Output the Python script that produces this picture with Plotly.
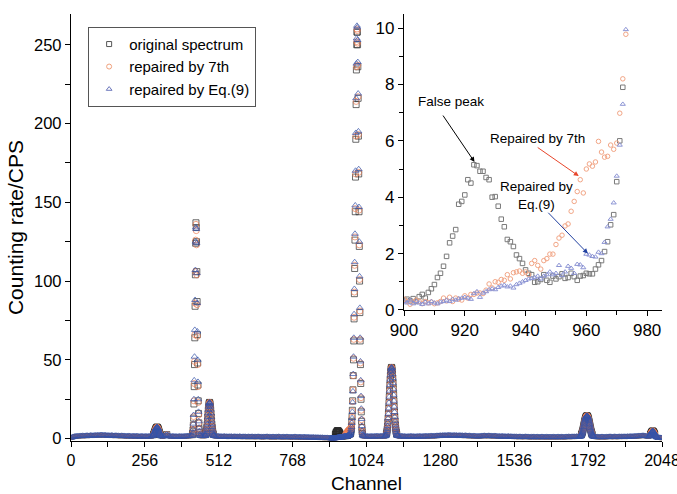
import plotly.graph_objects as go

# ---------------- data ----------------
# continuum, sampled every 4 channels (0..2048); None = channel range given in detail below
baseline_start, baseline_step = 0, 4
N = None
baseline_counts = [
    0.5, 0.8, 1.1, 1.3, 1.4, 1.5, 1.6, 1.5, 1.7, 1.6, 1.8, 1.7, 1.6, 1.8, 1.9, 1.7,
    1.8, 2.0, 1.9, 1.8, 2.0, 2.1, 1.9, 2.2, 2.0, 2.1, 2.3, 2.2, 2.0, 2.2, 2.1, 1.9,
    2.0, 1.9, 1.8, 2.0, 1.9, 1.7, 1.8, 1.9, 1.7, 1.8, 1.6, 1.7, 1.8, 1.6, 1.7, 1.5,
    1.6, 1.5, 1.7, 1.6, 1.4, 1.5, 1.6, 1.5, 1.4, 1.6, 1.5, 1.3, 1.4, 1.5, 1.4, 1.3,
    1.4, 1.5, 1.3, 1.4, 1.5, 1.4, 1.6, N, N, N, N, N, N, N, N, 1.5,
    1.4, 1.6, 2.2, 2.6, 2.2, 1.6, 1.4, 1.3, 1.5, 1.4, 1.3, 1.4, 1.2, 1.3, 1.4, 1.3,
    1.4, 1.3, 1.5, 1.4, 1.6, 1.5, 1.7, 1.6, 1.8, N, N, N, N, N, N, N,
    1.7, 1.6, 1.8, 1.7, N, N, N, N, N, N, N, N, N, 1.5, 1.4, 1.6,
    1.4, 1.3, 1.4, 1.2, 1.3, 1.4, 1.2, 1.3, 1.1, 1.3, 1.2, 1.3, 1.1, 1.2, 1.3, 1.1,
    1.2, 1.1, 1.3, 1.2, 1.0, 1.2, 1.1, 1.2, 1.0, 1.1, 1.2, 1.0, 1.1, 1.2, 1.0, 1.1,
    1.1, 1.0, 1.2, 1.1, 1.0, 1.1, 0.9, 1.1, 1.0, 1.1, 1.2, 1.0, 1.1, 0.9, 1.0, 1.1,
    1.0, 0.9, 1.1, 1.0, 1.2, 1.0, 0.9, 1.0, 1.1, 0.9, 1.0, 1.1, 1.0, 0.9, 1.0, 0.9,
    1.0, 0.9, 1.1, 1.0, 0.8, 1.0, 0.9, 1.0, 0.8, 0.9, 1.0, 0.8, 0.9, 0.8, 0.9, 0.7,
    0.8, 0.7, 0.8, 0.6, 0.7, 0.6, 0.7, 0.5, 0.6, 0.5, 0.6, 0.4, 0.5, 0.4, 0.5, 0.4,
    0.4, N, N, N, N, N, N, N, N, N, N, N, N, N, N, N,
    N, N, N, N, N, N, N, N, N, N, N, N, N, N, 1.6, 1.5,
    1.4, 1.5, 1.3, 1.4, 1.5, 1.4, 1.3, 1.5, 1.4, 1.6, 1.5, 1.4, 1.5, 1.6, 1.5, 1.4,
    1.5, N, N, N, N, N, N, N, N, N, N, N, 1.5, 1.4, 1.6, 1.5,
    1.3, 1.4, 1.3, 1.2, 1.4, 1.3, 1.5, 1.4, 1.3, 1.4, 1.2, 1.3, 1.4, 1.3, 1.5, 1.4,
    1.3, 1.5, 1.4, 1.6, 1.5, 1.4, 1.6, 1.5, 1.7, 1.6, 1.5, 1.7, 1.6, 1.8, 1.7, 1.8,
    1.9, 1.8, 2.0, 1.9, 2.1, 1.9, 2.0, 2.2, 2.0, 2.1, 1.9, 2.0, 2.1, 1.9, 2.0, 1.8,
    1.9, 2.0, 1.8, 1.9, 1.7, 1.8, 1.9, 1.7, 1.6, 1.8, 1.7, 1.6, 1.5, 1.7, 1.6, 1.5,
    1.5, 1.4, 1.6, 1.5, 1.7, 1.6, 1.8, 1.7, 1.6, 1.7, 1.8, 1.6, 1.7, 1.5, 1.6, 1.7,
    1.6, 1.5, 1.4, 1.5, 1.3, 1.4, 1.5, 1.3, 1.4, 1.2, 1.3, 1.4, 1.2, 1.3, 1.2, 1.1,
    1.2, 1.1, 1.2, 1.0, 1.1, 1.2, 1.0, 1.1, 1.0, 1.1, 1.2, 1.0, 1.1, 1.0, 0.9, 1.1,
    1.0, 1.1, 0.9, 1.0, 1.1, 1.0, 0.9, 1.0, 1.1, 1.0, 0.9, 1.0, 1.1, 0.9, 1.0, 1.0,
    1.0, 0.9, 1.1, 1.0, 0.9, 1.0, 1.1, 0.9, 1.0, 1.1, 1.0, 0.9, 1.0, 1.1, 1.0, 1.2,
    1.1, 1.0, 1.2, 1.1, 1.2, 1.1, 1.3, 1.2, 1.2, 1.3, N, N, N, N, N, N,
    N, N, N, N, N, 1.2, 1.1, 1.0, 1.1, 1.0, 0.9, 1.0, 1.1, 1.0, 0.9, 1.0,
    1.1, 1.0, 1.1, 1.2, 1.1, 1.0, 1.1, 1.2, 1.1, 1.0, 1.1, 1.2, 1.1, 1.2, 1.1, 1.2,
    1.2, 1.1, 1.3, 1.2, 1.3, 1.4, 1.3, 1.4, 1.5, 1.4, 1.6, 1.5, 1.7, 1.6, 1.7, 1.8,
    1.8, 1.7, 1.6, 1.5, 1.4, N, N, N, N, N, N, N, N, 0.65, 0.55, 0.45,
    0.4,
]

# peaks common to all three spectra (first channel, counts per channel)
peakA_start = 282
peakA_counts = [1.6, 1.8, 2.0, 2.2, 2.5, 2.9, 3.3, 3.8, 4.3, 4.9, 5.4, 5.9, 6.3, 6.7, 7.0,
                7.2, 7.3, 7.2, 7.0, 6.7, 6.3, 5.8, 5.2, 4.6, 4.0, 3.4, 2.9, 2.5, 2.1, 1.9,
                1.7, 1.6, 1.5]
peakC_start = 464
peakC_counts = [1.6, 1.8, 2.1, 2.6, 3.3, 4.3, 5.6, 7.2, 9.1, 11.3, 13.6, 16.0, 18.3, 20.2,
                21.7, 22.6, 23.0, 22.7, 21.8, 20.3, 18.4, 16.1, 13.7, 11.4, 9.2, 7.3, 5.7,
                4.4, 3.4, 2.7, 2.2, 1.9, 1.7]
peakF_start = 1090
peakF_counts = [1.6, 1.9, 2.3, 2.9, 3.7, 4.8, 6.2, 8.0, 10.2, 12.8, 15.8, 19.2, 22.8, 26.6,
                30.4, 34.0, 37.4, 40.2, 42.5, 44.1, 45.0, 45.2, 44.6, 43.2, 41.1, 38.4,
                35.2, 31.6, 27.8, 24.0, 20.3, 16.9, 13.8, 11.1, 8.8, 6.9, 5.4, 4.2, 3.3,
                2.7, 2.2, 1.9, 1.7]
peakG_start = 1765
peakG_counts = [1.3, 1.5, 1.8, 2.1, 2.5, 3.0, 3.6, 4.2, 4.9, 5.7, 6.5, 7.4, 8.3, 9.2, 10.1,
                10.9, 11.7, 12.4, 13.0, 13.5, 13.9, 14.2, 14.4, 14.5, 14.4, 14.2, 13.8, 13.3,
                12.7, 12.0, 11.2, 10.3, 9.4, 8.5, 7.6, 6.7, 5.8, 5.0, 4.3, 3.6, 3.0, 2.5,
                2.1, 1.8, 1.5, 1.3]
peakH_start = 2004
peakH_counts = [1.4, 1.6, 1.9, 2.2, 2.6, 3.0, 3.4, 3.8, 4.1, 4.4, 4.6, 4.8, 4.8, 4.7, 4.5,
                4.2, 3.9, 3.5, 3.1, 2.7, 2.4, 2.1, 1.8, 1.5, 1.3, 1.1, 0.9, 0.8, 0.7]

# peak B (about channel 432), three spectra
peakB_start = 420
peakB_original = [1.8, 2.5, 3.5, 5.5, 8.5, 13, 22, 33, 47, 64, 84, 104, 124, 137, 134, 125,
                  106, 87, 66, 48, 34, 24, 16, 10, 6, 4, 2.8, 2.0]
peakB_7th = [1.8, 2.5, 3.6, 5.8, 9.0, 14, 24, 35, 49, 66, 86, 106, 126, 136, 132, 123,
             104, 85, 65, 47, 33, 23, 15, 10, 6, 4, 2.8, 2.0]
peakB_eq9 = [1.8, 2.6, 3.8, 6.0, 9.5, 15, 25, 37, 52, 69, 88, 107, 125, 134, 133, 124,
             105, 86, 68, 50, 36, 25, 17, 11, 7, 4.5, 3.0, 2.1]

# inset region, channels 900..973
inset_start = 900
inset_original = [0.35, 0.38, 0.32, 0.40, 0.30, 0.47, 0.55, 0.42, 0.62, 0.75,
                  0.90, 1.15, 1.30, 1.55, 1.90, 2.38, 2.62, 2.85, 3.75, 3.85,
                  4.08, 4.62, 4.50, 5.15, 5.12, 4.92, 4.92, 4.70, 4.62, 4.00,
                  4.02, 3.68, 3.22, 2.95, 2.50, 2.42, 2.25, 1.95, 1.82, 1.65,
                  1.42, 1.30, 1.25, 0.98, 1.00, 1.08, 1.25, 1.05, 0.98, 1.20,
                  1.10, 1.18, 1.28, 1.12, 1.15, 1.30, 1.18, 1.05, 1.20, 1.22,
                  1.30, 1.28, 1.28, 1.45, 1.60, 1.75, 2.07, 2.42, 3.02, 3.38,
                  4.55, 6.00, 7.90, 11.0]
inset_7th = [0.38, 0.30, 0.20, 0.28, 0.35, 0.30, 0.22, 0.30, 0.25, 0.28,
             0.22, 0.25, 0.30, 0.42, 0.32, 0.45, 0.30, 0.42, 0.38, 0.35,
             0.50, 0.42, 0.55, 0.55, 0.60, 0.60, 0.58, 0.70, 0.92, 0.78,
             1.00, 0.98, 1.08, 1.05, 1.25, 1.10, 1.32, 1.35, 1.38, 1.30,
             1.35, 1.25, 1.65, 1.75, 1.58, 1.45, 1.75, 1.82, 1.98, 1.98,
             2.32, 2.55, 2.65, 2.98, 3.05, 3.50, 3.85, 4.20, 4.62, 4.15,
             5.00, 5.18, 5.10, 5.25, 5.98, 5.60, 5.42, 5.45, 5.85, 5.70,
             5.92, 6.98, 8.20, 9.78]
inset_eq9 = [0.30, 0.25, 0.35, 0.22, 0.30, 0.25, 0.20, 0.28, 0.22, 0.30,
             0.25, 0.22, 0.28, 0.30, 0.35, 0.30, 0.38, 0.35, 0.40, 0.42,
             0.45, 0.42, 0.38, 0.58, 0.65, 0.45, 0.60, 0.65, 0.72, 0.75,
             0.72, 0.80, 0.85, 0.88, 0.82, 0.85, 0.78, 0.90, 0.95, 1.00,
             1.05, 1.10, 1.12, 1.15, 1.20, 1.10, 1.20, 1.25, 1.35, 1.25,
             1.30, 1.58, 1.22, 1.35, 1.55, 1.48, 1.30, 1.62, 1.60, 1.50,
             1.98, 1.95, 1.90, 1.88, 2.05, 2.00, 2.40, 2.95, 3.22, 3.80,
             4.75, 5.85, 7.30, 9.95]

# peak E (about channel 992), three spectra, channels 974..
peakE_start = 974
peakE_original = [14, 18, 24, 31, 40, 50, 62, 76, 92, 108, 126, 144, 166, 190, 212, 234,
                  250, 258, 258, 250, 236, 216, 192, 168, 144, 122, 100, 80, 62, 47, 35,
                  25, 17, 11, 7, 4.5, 3.0, 2.2, 1.8, 1.5]
peakE_7th = [13.5, 17.5, 23.5, 31, 40, 51, 63, 77, 93, 110, 128, 146, 168, 192, 214, 236,
             252, 260, 259, 251, 237, 217, 193, 169, 145, 123, 101, 81, 63, 48, 36, 26,
             18, 12, 7.5, 4.8, 3.2, 2.3, 1.8, 1.5]
peakE_eq9 = [13, 17, 23, 30, 41, 52, 64, 79, 95, 112, 130, 148, 170, 194, 216, 238, 254,
             262, 261, 253, 239, 219, 195, 171, 147, 125, 103, 83, 64, 49, 37, 27, 19,
             12.5, 8, 5, 3.3, 2.4, 1.9, 1.5]

x_ticks = [0, 256, 512, 768, 1024, 1280, 1536, 1792, 2048]
y_ticks = [0, 50, 100, 150, 200, 250]
inset_x_ticks = [900, 920, 940, 960, 980]
inset_y_ticks = [0, 2, 4, 6, 8, 10]


# ---------------- assemble spectra ----------------
def segment(start, values):
    return {start + i: v for i, v in enumerate(values)}

common_segments = [(peakA_start, peakA_counts), (peakC_start, peakC_counts),
                   (peakF_start, peakF_counts), (peakG_start, peakG_counts),
                   (peakH_start, peakH_counts)]

def spectrum(peakB, inset, peakE):
    segs = common_segments + [(peakB_start, peakB), (inset_start, inset), (peakE_start, peakE)]
    ranges = [(s, s + len(v) - 1) for s, v in segs]
    d = {}
    for i, v in enumerate(baseline_counts):
        ch = baseline_start + i * baseline_step
        if v is None or any(lo <= ch <= hi for lo, hi in ranges):
            continue
        d[ch] = v
    for s, v in segs:
        d.update(segment(s, v))
    chs = sorted(d)
    return chs, [d[c] for c in chs]

x_o, y_o = spectrum(peakB_original, inset_original, peakE_original)
x_7, y_7 = spectrum(peakB_7th, inset_7th, peakE_7th)
x_9, y_9 = spectrum(peakB_eq9, inset_eq9, peakE_eq9)

FONT = "Liberation Sans, Arial, sans-serif"
C_BLACK = "#2b2b2b"
C_ORANGE = "#ec7e52"
C_BLUE = "#3552a8"

fig = go.Figure()
series = [
    ("original spectrum", x_o, y_o, "square-open", C_BLACK, "#555555", "#7a7a7a", True),
    ("repaired by 7th", x_7, y_7, "circle-open", C_ORANGE, "#f0a07c", "#f2a585", True),
    ("repaired by Eq.(9)", x_9, y_9, "triangle-up-open", C_BLUE, "#6d78bd", "#8c94d4", False),
]
for name, xs, ys, sym, col, legcol, insetcol, under in series:
    # in the dense continuum the last-drawn triangles hide the other symbols
    sizes = [3.5 if (under and v < 2.5) else 6 for v in ys]
    fig.add_trace(go.Scatter(
        x=xs, y=ys, mode="markers", name=name, xaxis="x", yaxis="y",
        marker=dict(symbol=sym, size=sizes, color=col, line=dict(width=1, color=col)),
        showlegend=False,
    ))
for name, xs, ys, sym, col, legcol, insetcol, under in series:
    fig.add_trace(go.Scatter(
        x=[None], y=[None], mode="markers", name=name,
        marker=dict(symbol=sym, size=5, color=legcol, line=dict(width=1, color=legcol)),
        showlegend=True,
    ))
for name, xs, ys, sym, col, legcol, insetcol, under in series:
    fig.add_trace(go.Scatter(
        x=xs, y=ys, mode="markers", name=name, xaxis="x2", yaxis="y2",
        marker=dict(symbol=sym, size=4.5, color=insetcol, line=dict(width=1, color=insetcol)),
        showlegend=False,
    ))

def axis_common(size=16):
    return dict(showgrid=False, zeroline=False, showline=True, linecolor="black",
                linewidth=1.3, tickcolor="black", tickwidth=1.2, automargin=False,
                ticklabeloverflow="allow",
                tickfont=dict(family=FONT, size=size, color="black"))

def minor(dt, t0, kind, ln=5):
    return dict(dtick=dt, tick0=t0, ticks=kind, ticklen=ln, tickcolor="black", tickwidth=1.2)

fig.update_layout(
    width=677, height=494,
    margin=dict(l=71, r=15, t=14, b=53),
    paper_bgcolor="white", plot_bgcolor="white",
    font=dict(family=FONT, color="black"),
    xaxis=dict(range=[0, 2048], tickvals=x_ticks, ticks="outside", ticklen=5,
               minor=minor(128, 0, "outside"),
               title=dict(text="Channel", font=dict(family=FONT, size=19), standoff=8),
               domain=[0, 1], anchor="y", **axis_common(16)),
    yaxis=dict(range=[-1.5, 269.5], tickvals=y_ticks, ticks="outside", ticklen=5,
               minor=minor(25, 0, "outside"),
               title=dict(text="Counting rate/CPS", font=dict(family=FONT, size=21), standoff=4),
               domain=[0, 1], anchor="x", **axis_common(16.5)),
    xaxis3=dict(range=[0, 2048], overlaying="x", side="top", anchor="y", tickvals=x_ticks,
                ticks="inside", ticklen=5, showticklabels=False,
                minor=minor(128, 0, "inside"), **axis_common()),
    yaxis3=dict(range=[-1.5, 269.5], overlaying="y", side="right", anchor="x", tickvals=y_ticks,
                ticks="inside", ticklen=5, showticklabels=False,
                minor=minor(25, 0, "inside"), **axis_common()),
    xaxis2=dict(range=[900, 984.9], domain=[0.5635, 1.0], anchor="y2", tickvals=inset_x_ticks,
                ticks="outside", ticklen=5, minor=minor(10, 900, "outside", 4),
                **axis_common(17)),
    yaxis2=dict(range=[0, 10.5], domain=[0.307, 1.0], anchor="x2", tickvals=inset_y_ticks,
                ticks="outside", ticklen=5, minor=minor(1, 0, "outside", 4),
                **axis_common(17)),
    legend=dict(x=0.029, y=0.97, xanchor="left", yanchor="top",
                bordercolor="#555555", borderwidth=1, bgcolor="white",
                font=dict(family=FONT, size=15, color="black"), tracegroupgap=0),
)

ann_font = dict(family=FONT, size=13.5, color="black")
fig.add_annotation(x=915.5, y=7.4, xref="x2", yref="y2", text="False peak",
                   showarrow=False, font=ann_font)
fig.add_annotation(x=944, y=6.1, xref="x2", yref="y2", text="Repaired by 7th",
                   showarrow=False, font=ann_font)
fig.add_annotation(x=943.5, y=4.05, xref="x2", yref="y2", text="Repaired by<br>Eq.(9)",
                   showarrow=False, font=ann_font)
for (x0, y0, x1, y1, c) in [(912.5, 6.95, 923.2, 5.25, "black"),
                            (943.5, 5.8, 957.5, 4.75, "#e8452a"),
                            (947.0, 3.5, 960.5, 2.0, "#2040a0")]:
    fig.add_annotation(x=x1, y=y1, ax=x0, ay=y0, xref="x2", yref="y2", axref="x2", ayref="y2",
                       text="", showarrow=True, arrowhead=2, arrowsize=1, arrowwidth=1,
                       arrowcolor=c, standoff=0)

fig.write_html("out.html", config={"displayModeBar": False},
               post_script="document.body.style.margin='0px';document.body.style.padding='0px';")
